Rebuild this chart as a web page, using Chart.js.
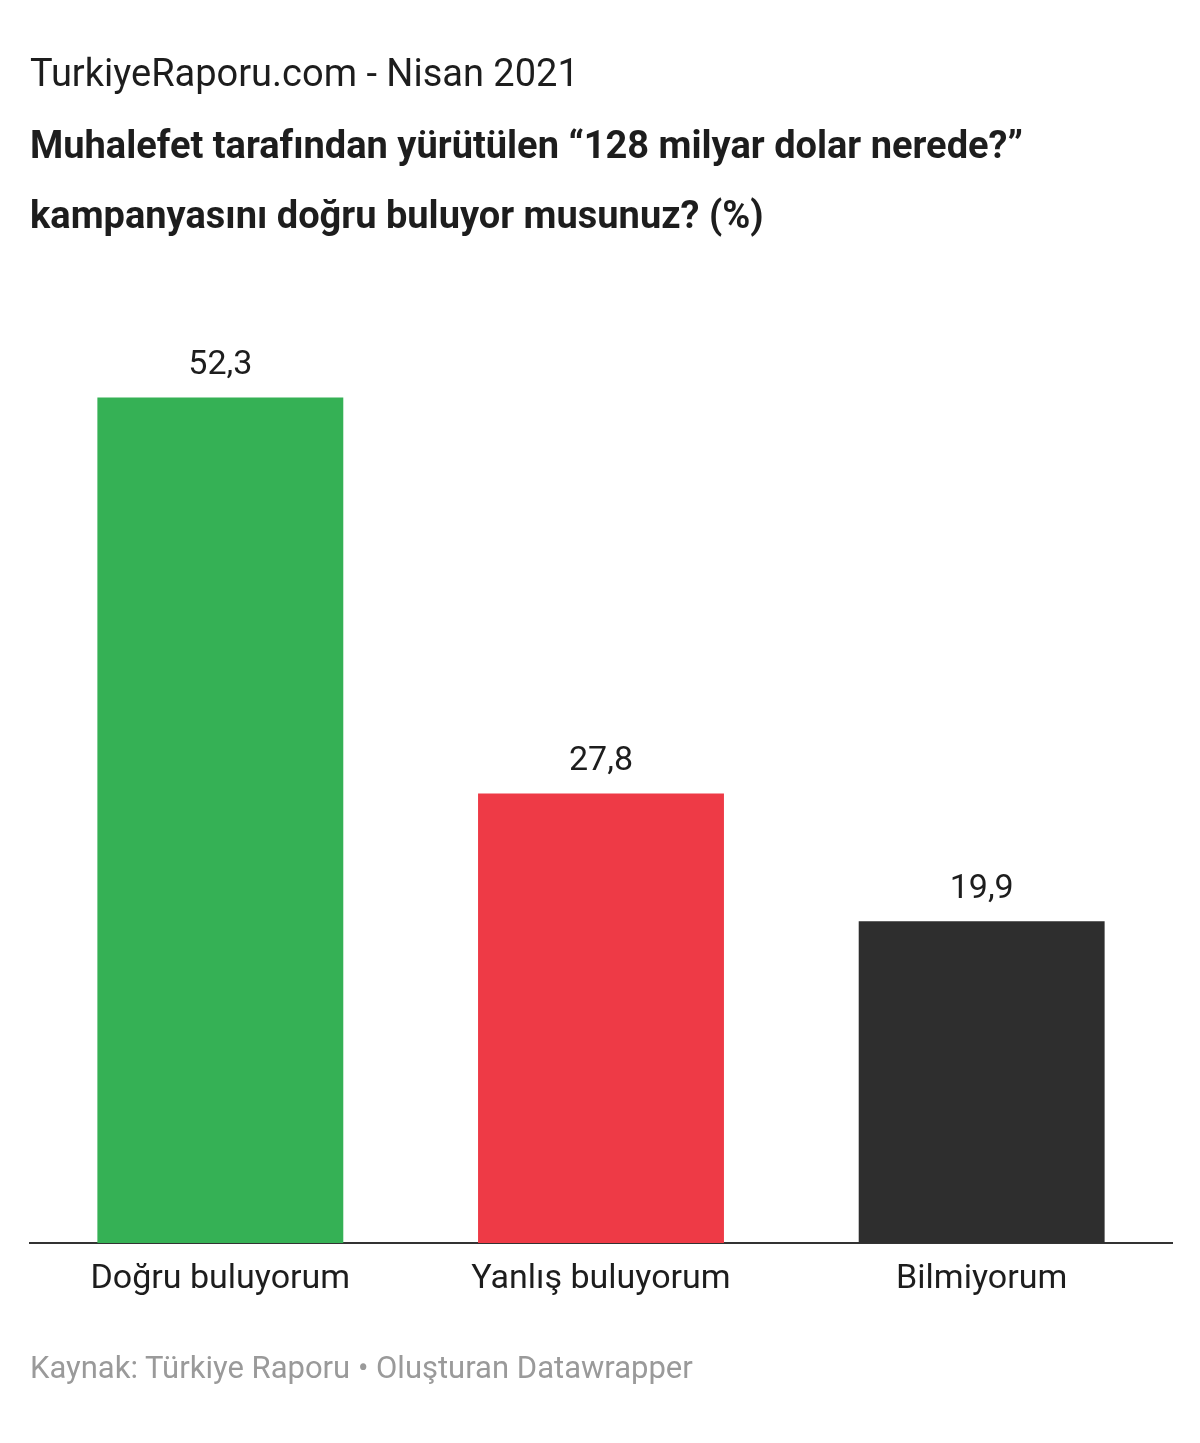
<!DOCTYPE html>
<html>
<head>
<meta charset="utf-8">
<script src="https://cdn.jsdelivr.net/npm/chart.js@4/dist/chart.umd.min.js"></script>
<style>
  body { margin: 0; background: #fff; font-family: Roboto, sans-serif; }
  #wrap { position: relative; width: 1200px; height: 1443px; }
  #chart { position: absolute; left: 0; top: 0; }
  .txt { position: absolute; left: 30px; white-space: nowrap; color: #1d1d1d; }
  #kicker { top: 51px; font-size: 38px; }
  #title1 { top: 123px; font-size: 38px; font-weight: bold; }
  #title2 { top: 193px; font-size: 38px; font-weight: bold; }
  #source { top: 1349px; font-size: 31px; color: #9a9a9a; }
</style>
</head>
<body>
<div id="wrap">
  <canvas id="chart" width="1200" height="1443"></canvas>
  <div class="txt" id="kicker">TurkiyeRaporu.com - Nisan 2021</div>
  <div class="txt" id="title1">Muhalefet tarafından yürütülen “128 milyar dolar nerede?”</div>
  <div class="txt" id="title2">kampanyasını doğru buluyor musunuz? (%)</div>
  <div class="txt" id="source">Kaynak: Türkiye Raporu • Oluşturan Datawrapper</div>
</div>
<script>
const categories = ["Doğru buluyorum", "Yanlış buluyorum", "Bilmiyorum"];
const values = [52.3, 27.8, 19.9];
const barColors = ["#35b155", "#ee3a46", "#2e2e2e"];

// value labels above each bar, with comma decimals
const valueLabels = {
    id: "valueLabels",
    afterDatasetsDraw(chart) {
        const c = chart.ctx;
        const meta = chart.getDatasetMeta(0);
        c.save();
        c.font = "34px Roboto";
        c.fillStyle = "#1d1d1d";
        c.textAlign = "center";
        c.textBaseline = "bottom";
        meta.data.forEach((bar, i) => {
            c.fillText(values[i].toFixed(1).replace(".", ","), bar.x, bar.y - 15);
        });
        c.restore();
    }
};

const ctx = document.getElementById("chart").getContext("2d");
window.pollChart = new Chart(ctx, {
    type: "bar",
    data: {
        labels: categories,
        datasets: [{
            data: values,
            backgroundColor: barColors,
            borderWidth: 0,
            categoryPercentage: 1,
            barPercentage: 0.646
        }]
    },
    options: {
        responsive: false,
        animation: false,
        layout: { padding: { left: 30, right: 28, top: 273, bottom: 120 } },
        scales: {
            y: { display: false, min: 0, max: 60 },
            x: {
                grid: { display: false, drawTicks: false },
                border: { display: true, color: "#333", width: 2 },
                ticks: { color: "#1d1d1d", font: { family: "Roboto", size: 34 }, padding: 16 },
                afterFit: (scale) => { scale.height = 80; }
            }
        },
        plugins: {
            legend: { display: false },
            tooltip: { enabled: false }
        }
    },
    plugins: [valueLabels]
});
</script>
</body>
</html>
